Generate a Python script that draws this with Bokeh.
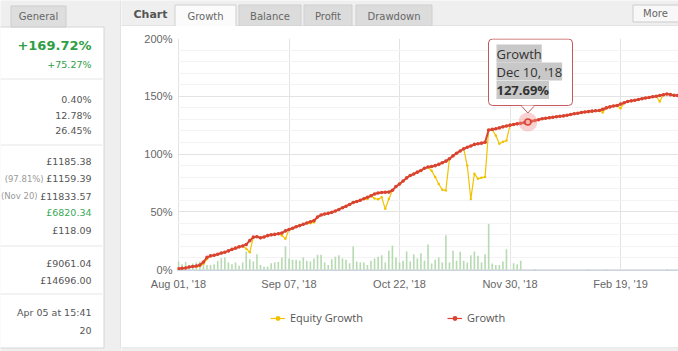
from bokeh.plotting import figure
from bokeh.layouts import row, column
from bokeh.models import (Range1d, FixedTicker, BoxAnnotation, Label, Legend,
                          LegendItem, PrintfTickFormatter)
from bokeh.core.properties import value
from bokeh.embed import file_html
from bokeh.resources import INLINE

# ---------------- data ----------------
growth = [0.6, 1.0, 1.3, 2.2, 2.6, 3.0, 3.8, 6.5, 10.5, 11.8,
          12.3, 13.2, 14.2, 15.0, 16.1, 17.4, 18.5, 19.6, 20.4, 21.7,
          25.0, 28.0, 28.3, 27.4, 28.2, 29.3, 30.0, 30.4, 31.0, 31.6,
          33.4, 34.6, 35.7, 37.0, 38.0, 39.2, 40.3, 41.4, 42.3, 45.4,
          47.2, 48.0, 48.6, 49.5, 50.6, 52.0, 53.5, 54.8, 56.3, 58.0,
          58.9, 60.0, 61.3, 62.6, 63.8, 65.4, 66.2, 66.6, 66.9, 67.0,
          68.6, 71.8, 74.0, 76.6, 79.3, 81.4, 82.7, 84.3, 85.7, 87.6,
          88.7, 89.2, 89.9, 91.0, 92.4, 93.8, 95.9, 98.4, 100.7, 102.6,
          104.5, 105.8, 106.9, 108.3, 108.9, 109.4, 110.2, 120.8, 121.3, 121.9,
          122.6, 123.5, 124.3, 125.0, 125.6, 126.1, 126.6, 127.2, 127.69, 128.3,
          129.0, 129.6, 130.5, 130.9, 131.4, 131.8, 132.3, 132.7, 133.0, 133.6,
          134.2, 134.8, 135.3, 136.0, 136.4, 136.7, 137.1, 137.4, 137.7, 138.8,
          139.9, 140.8, 141.5, 142.0, 143.2, 144.3, 145.4, 146.0, 146.6, 147.2,
          147.9, 148.5, 148.9, 149.5, 150.0, 150.6, 151.3, 152.0, 151.4, 150.8,
          150.6]

equity = [0.6, 1.0, 1.3, 2.2, 2.6, 2.5, 3.0, 5.0, 9.0, 11.8,
          12.3, 13.2, 14.2, 15.0, 16.1, 17.4, 18.5, 19.6, 20.4, 18.0,
          15.0, 28.0, 28.3, 27.4, 28.2, 29.3, 30.0, 30.4, 31.0, 29.5,
          26.6, 34.6, 35.7, 37.0, 38.0, 39.2, 40.3, 40.0, 41.0, 45.4,
          47.2, 48.0, 48.6, 49.5, 50.6, 52.0, 53.5, 54.8, 56.3, 58.0,
          58.9, 60.0, 61.3, 61.0, 63.8, 61.5, 60.8, 62.5, 52.5, 61.0,
          68.6, 71.8, 74.0, 76.6, 79.3, 81.4, 82.7, 84.3, 85.7, 87.6,
          88.7, 85.5, 80.0, 74.0, 69.0, 68.5, 95.9, 98.4, 100.7, 102.6,
          104.5, 90.0, 61.0, 83.0, 78.5, 79.5, 80.0, 120.8, 121.3, 116.0,
          108.8, 110.5, 111.7, 125.0, 125.6, 126.1, 126.6, 127.2, 127.69, 128.3,
          129.0, 129.6, 130.5, 130.9, 131.4, 131.8, 132.3, 132.7, 133.0, 133.6,
          134.2, 134.8, 135.3, 136.0, 136.4, 136.7, 137.1, 137.4, 137.7, 136.0,
          139.9, 140.8, 141.5, 142.0, 139.5, 144.3, 145.4, 146.0, 146.6, 147.2,
          147.9, 148.5, 148.9, 149.5, 150.0, 145.5, 151.3, 152.0, 151.4, 150.8,
          150.6]

bars = [6.9, 4.6, 6.6, 3.8, 5.2, 6.1, 6.9, 6.9, 3.8, 3.8,
        4.6, 7.5, 9.8, 10.4, 6.1, 4.6, 6.1, 3.2, 6.1, 15.6,
        8.9, 6.9, 13.3, 3.8, 2.3, 2.6, 5.5, 6.1, 6.6, 10.4,
        19.9, 9.5, 8.4, 8.4, 7.5, 10.4, 7.5, 6.9, 9.5, 12.7,
        12.7, 6.1, 3.8, 8.9, 11.0, 12.4, 9.5, 8.4, 5.5, 19.9,
        6.9, 6.1, 6.1, 4.0, 7.5, 9.5, 11.0, 12.4, 6.1, 16.2,
        20.5, 10.4, 6.1, 7.5, 15.6, 6.9, 13.3, 9.5, 14.1, 7.5,
        21.7, 5.2, 8.4, 10.4, 6.1, 29.7, 6.1, 16.2, 7.5, 15.3,
        7.5, 6.1, 12.4, 15.6, 11.8, 6.1, 13.3, 39.5, 5.2, 3.8,
        3.8, 6.9, 17.6, 0.0, 5.5, 4.6, 7.5, 0.0, 0.0, 0.0,
        0.5, 0.0, 0.0, 0.0, 0.0, 0.0, 0.0, 0.0, 0.0, 0.0,
        0.0, 0.0, 0.0, 0.0, 0.0, 0.5, 0.0, 0.0, 0.0, 0.0,
        0.5, 0.0, 0.0, 0.0, 0.0, 0.0, 0.0, 0.0, 0.0, 0.0,
        0.0, 0.0, 0.0, 0.0, 0.0, 0.0, 0.0, 0.5, 0.0, 0.0,
        0.0]

idx = list(range(len(growth)))
x_ticks = [0, 31, 62, 93, 124]
x_tick_labels = ["Aug 01, '18", "Sep 07, '18", "Oct 22, '18", "Nov 30, '18", "Feb 19, '19"]
y_ticks = [0, 50, 100, 150, 200]
y_minor = [10, 20, 30, 40, 60, 70, 80, 90, 110, 120, 130, 140, 160, 170, 180, 190]

hover_i = 98
hover_lines = ["Growth", "Dec 10, '18", "127.69%"]

series_names = ["Equity Growth", "Growth"]
tab_names = ["Growth", "Balance", "Profit", "Drawdown"]

panel_headline = "+169.72%"
panel_prefixes = ["", "", "", "", "", "(97.81%)", "(Nov 20)", "", "", "", "", "", ""]
panel_values = ["+75.27%", "0.40%", "12.78%", "26.45%", "£1185.38", "£1159.39",
                "£11833.57", "£6820.34", "£118.09", "£9061.04", "£14696.00",
                "Apr 05 at 15:41", "20"]
panel_colors = ["#2e9e44", "#555555", "#555555", "#555555", "#555555", "#555555",
                "#555555", "#3aaa55", "#555555", "#555555", "#555555", "#555555",
                "#555555"]

# ---------------- geometry (page pixels) ----------------
W, H = 678, 351
LW = 121                 # left column width
HDR = 26                 # tab strip height
CH_BOT = 297             # bottom of chart figure
FL, FT, FB = 177, 38, 270  # chart frame left/top/bottom on the page
PXU = 3.565              # pixels per index step
GRAY = "#efefef"
BORDER = "#d6d6d6"
k = 200.0 / 231.0        # percent per pixel
NAN = float("nan")


def mkfig(**kw):
    try:
        return figure(frame_align=False, **kw)
    except Exception:
        return figure(**kw)


def deco_fig(x0, x1, y0, y1, bg):
    f = mkfig(width=x1 - x0, height=y1 - y0, output_backend="svg",
              toolbar_location=None, x_range=Range1d(x0, x1),
              y_range=Range1d(y1, y0), x_axis_location=None,
              y_axis_location=None, min_border=0, outline_line_color=None,
              background_fill_color=bg, border_fill_color=bg)
    f.grid.visible = False
    return f


def txt(f, x, y, s, size="10px", color="#555555", font="DejaVu Sans",
        align="left", style="normal"):
    f.text(x=[x], y=[y], text=[s], text_font=value(font), text_font_size=value(size),
           text_color=color, text_align=align, text_baseline="middle",
           text_font_style=style)


def rect(f, l, t, r, b, fill, line=None):
    f.quad(left=[l], right=[r], top=[t], bottom=[b], fill_color=fill,
           line_color=line, line_width=1)


# ---------------- left panel ----------------
lf = deco_fig(0, LW, 0, H, GRAY)
rect(lf, -2, 26.5, 103.5, 347.5, "white", BORDER)
rect(lf, 10.5, 5.5, 65.5, 26.5, "#dedede", "#cccccc")
txt(lf, 38, 15.5, "General", align="center", color="#666666")
for y in (78.5, 144.5, 245.5, 293.5):
    lf.segment(x0=[0], y0=[y], x1=[102], y1=[y], line_color="#e6e6e6", line_width=1)
lf.segment(x0=[120.5], y0=[0], x1=[120.5], y1=[348], line_color=BORDER, line_width=1)

txt(lf, 91, 45, panel_headline, size="13px", style="bold", color="#2e9e44", align="right")
row_y = [63.5, 99, 114.5, 129.5, 160.5, 178, 195.5, 212, 229.5, 263, 280, 311.5, 330]
cw = {".": 0.318, ":": 0.337, " ": 0.318, "(": 0.39, ")": 0.39, "%": 0.95}
VS = 9.5
for pre, val, col, y in zip(panel_prefixes, panel_values, panel_colors, row_y):
    txt(lf, 91, y, val, size=f"{VS}px", color=col, align="right")
    if pre:
        w = sum(cw.get(c, 0.636) for c in val) * VS
        txt(lf, 91 - w - 2.5, y, pre, size="8.5px", color="#9a9a9a", align="right")

# ---------------- tab strip ----------------
hf = deco_fig(LW, W, 0, HDR, GRAY)
hf.segment(x0=[LW], y0=[25.5], x1=[W], y1=[25.5], line_color=BORDER, line_width=1)
txt(hf, 133, 14, "Chart", size="11px", style="bold", color="#555555")
tab_x = [(174.5, 235.5), (238.5, 300.5), (303.5, 351.5), (355.5, 431.5)]
for (l, r), name in zip(tab_x, tab_names):
    active = name == "Growth"
    rect(hf, l, 4.5, r, 27 if active else 25.5, "#fbfbfb" if active else "#dcdcdc", "#cfcfcf")
    txt(hf, (l + r) / 2, 16, name, align="center", color="#666666")
rect(hf, 632.5, 4.5, 690, 21.5, "#f8f8f8", "#cccccc")
txt(hf, 655, 13, "More", align="center", color="#666666")

# ---------------- chart ----------------
x_start = -(178 - FL) / PXU
x_end = (W - 178) / PXU
y_start = -(FB - 269) * k
p = mkfig(width=W - LW, height=CH_BOT - HDR, output_backend="svg",
          toolbar_location=None, x_range=Range1d(x_start, x_end),
          y_range=Range1d(y_start, 200), min_border_left=FL - LW,
          min_border_right=0, min_border_top=FT - HDR,
          min_border_bottom=CH_BOT - FB, background_fill_color="white",
          border_fill_color="white", outline_line_color=None)

p.vbar(x=idx, top=bars, width=0.45, fill_color="#a9d3a3", fill_alpha=0.85,
       line_color=None)
p.line(idx, equity, line_color="#f2c200", line_width=1.2)
p.scatter(idx, equity, size=2.5, fill_color="#f2c200", line_color=None)
p.line(idx, growth, line_color="#d94330", line_width=2)
p.scatter(idx, growth, size=3.6, fill_color="#d94330", line_color=None)

hv = growth[hover_i]
p.scatter([hover_i], [hv], size=19, fill_color="#ef8c8c", fill_alpha=0.4, line_color=None)
p.scatter([hover_i], [hv], size=6, fill_color="#f6b0b0", line_color="#d94330", line_width=1.5)

p.xaxis.ticker = FixedTicker(ticks=x_ticks)
p.xaxis.major_label_overrides = {t: s for t, s in zip(x_ticks, x_tick_labels)}
p.yaxis.ticker = FixedTicker(ticks=y_ticks, minor_ticks=y_minor)
p.yaxis.formatter = PrintfTickFormatter(format="%d%%")
for ax in (p.xaxis, p.yaxis):
    ax.major_tick_line_color = None
    ax.minor_tick_line_color = None
    ax.major_tick_out = 0
    ax.major_tick_in = 0
    ax.major_label_text_font = "Liberation Sans"
    ax.major_label_text_font_size = "11px"
    ax.major_label_text_color = "#666666"
p.xaxis.axis_line_color = "#c9d5e2"
p.xaxis.major_label_standoff = 7
p.yaxis.axis_line_color = None
p.yaxis.major_label_standoff = 1
p.xgrid.ticker = FixedTicker(ticks=x_ticks)
p.xgrid.grid_line_color = "#e3e3e3"
p.ygrid.ticker = FixedTicker(ticks=y_ticks, minor_ticks=y_minor)
p.ygrid.grid_line_color = "#e3e3e3"
p.ygrid.minor_grid_line_color = "#f3f3f3"


def sx(cx):
    return cx - FL


def sy(cy):
    return FB - cy


# tooltip
tip_box = BoxAnnotation(left=sx(488), right=sx(572), top=sy(38.5), bottom=sy(105),
                        left_units="screen", right_units="screen",
                        top_units="screen", bottom_units="screen",
                        fill_color="white", fill_alpha=1.0, line_color="#c4585a",
                        line_alpha=1.0, line_width=1, border_radius=4)
p.add_layout(tip_box)
for s, y, st in zip(hover_lines, (53, 71, 89.5), ("normal", "normal", "bold")):
    p.add_layout(Label(x=sx(496), y=sy(y), x_units="screen", y_units="screen",
                       text=s, text_font="Open Sans", text_font_size="13px",
                       text_color="#333333", text_font_style=st,
                       text_baseline="middle", background_fill_color="#c8c8c8",
                       background_fill_alpha=1.0))
tip_y = hv + 9 * k
base_y = hv + 16.5 * k
half = 6 / PXU
p.patch([hover_i - half, hover_i, hover_i + half], [base_y, tip_y, base_y],
        fill_color="white", line_color=None, level="overlay")
p.line([hover_i - half, hover_i, hover_i + half], [base_y - 0.9 * k, tip_y, base_y - 0.9 * k],
       line_color="#c4585a", line_width=1, level="overlay")

# ---------------- legend strip ----------------
gf = deco_fig(LW, W, CH_BOT, H, "white")
gf.segment(x0=[LW], y0=[347.5], x1=[W], y1=[347.5], line_color=BORDER, line_width=1)
rect(gf, LW - 1, 348, W + 1, H + 1, GRAY)
eq_l = gf.line([NAN], [NAN], line_color="#f2c200", line_width=1.2)
eq_s = gf.scatter([NAN], [NAN], size=4, fill_color="#f2c200", line_color=None)
gr_l = gf.line([NAN], [NAN], line_color="#d94330", line_width=1.2)
gr_s = gf.scatter([NAN], [NAN], size=4, fill_color="#d94330", line_color=None)
legend = Legend(items=[LegendItem(label=series_names[0], renderers=[eq_l, eq_s]),
                       LegendItem(label=series_names[1], renderers=[gr_l, gr_s])],
                orientation="horizontal", location=(270 - LW, H - 325),
                spacing=84, padding=0, margin=0, border_line_color=None,
                background_fill_alpha=0.0, glyph_width=15, glyph_height=12,
                label_standoff=5, label_text_font="Open Sans",
                label_text_font_size="11px", label_text_color="#555555")
gf.add_layout(legend)

layout = row(lf, column(hf, p, gf, spacing=0), spacing=0)
open("out.html", "w").write(file_html(layout, INLINE))
